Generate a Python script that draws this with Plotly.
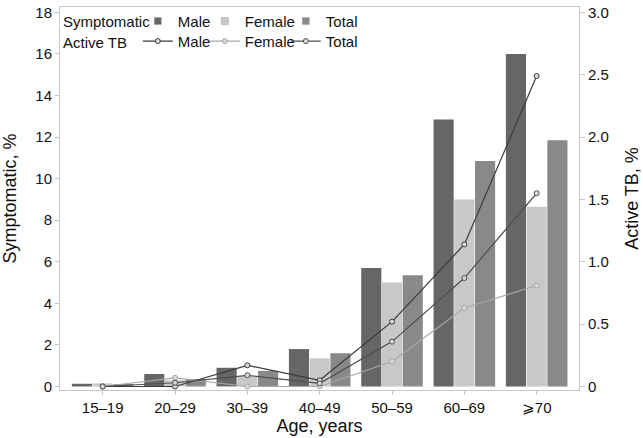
import plotly.graph_objects as go

categories = ["15–19", "20–29", "30–39", "40–49", "50–59", "60–69", "⩾70"]

symp_male = [0.13, 0.6, 0.9, 1.8, 5.7, 12.85, 16.0]
symp_female = [0.15, 0.3, 0.5, 1.35, 5.0, 9.0, 8.65]
symp_total = [0.12, 0.36, 0.75, 1.6, 5.35, 10.85, 11.85]

tb_male = [0.0, 0.0, 0.17, 0.05, 0.52, 1.14, 2.49]
tb_female = [0.0, 0.07, 0.0, 0.0, 0.2, 0.63, 0.81]
tb_total = [0.0, 0.03, 0.09, 0.025, 0.36, 0.87, 1.55]

left_ticks = [0, 2, 4, 6, 8, 10, 12, 14, 16, 18]
right_ticks = [0, 0.5, 1.0, 1.5, 2.0, 2.5, 3.0]
right_tick_text = ["0", "0.5", "1.0", "1.5", "2.0", "2.5", "3.0"]

FONT = "Arial, Liberation Sans, sans-serif"

fig = go.Figure()

bar_specs = [("Male", symp_male, "#666666"),
             ("Female", symp_female, "#c8c8c8"),
             ("Total", symp_total, "#898989")]
for name, vals, col in bar_specs:
    fig.add_trace(go.Bar(x=categories, y=vals, name=name, marker_color=col,
                         marker_line_width=0, showlegend=False, yaxis="y"))
# legend-only entries with small square symbols
for name, vals, col in bar_specs:
    fig.add_trace(go.Scatter(x=[None], y=[None], name=name, mode="markers",
                             marker=dict(symbol="square", size=7, color=col,
                                         line=dict(color="#9a9a9a", width=0.5)),
                             legend="legend", yaxis="y"))

line_specs = [("Male", tb_male, "#3a3a3a"),
              ("Female", tb_female, "#a8a8a8"),
              ("Total", tb_total, "#4e4e4e")]
for name, vals, col in line_specs:
    fig.add_trace(go.Scatter(x=categories, y=vals, name=name, mode="lines+markers",
                             line=dict(color=col, width=1.2),
                             marker=dict(symbol="circle", size=5, color="#d8d8d8",
                                         line=dict(color=col, width=1)),
                             legend="legend2", yaxis="y2"))

axis_line = "#c8c8c8"
fig.update_layout(
    width=643, height=438,
    margin=dict(l=60, r=64, t=6, b=48),
    paper_bgcolor="white", plot_bgcolor="white",
    font=dict(family=FONT, size=15, color="#111111"),
    barmode="group", bargap=0.14, bargroupgap=0.03,
    showlegend=True,
    xaxis=dict(range=[-0.59, 6.585], showline=True, linecolor=axis_line, mirror=True,
               ticks="outside", ticklen=4, tickcolor=axis_line, showgrid=False,
               automargin=False, title=dict(text="Age, years", standoff=0)),
    yaxis=dict(range=[-0.17, 18.26], tickvals=left_ticks, showline=True,
               linecolor=axis_line, ticks="outside", ticklen=4, tickcolor=axis_line,
               showgrid=False, zeroline=False, automargin=False,
               title=dict(text="Symptomatic, %", standoff=14)),
    yaxis2=dict(range=[-0.028, 3.044], tickvals=right_ticks, ticktext=right_tick_text,
                overlaying="y", side="right", showline=True, linecolor=axis_line,
                ticks="outside", ticklen=5, tickcolor=axis_line, showgrid=False,
                zeroline=False, automargin=False,
                title=dict(text="Active TB, %", standoff=17)),
    legend=dict(orientation="h", x=0.150, y=1.003, xanchor="left", yanchor="top",
                bgcolor="rgba(0,0,0,0)", font=dict(size=15), itemclick=False),
    legend2=dict(orientation="h", x=0.150, y=0.951, xanchor="left", yanchor="top",
                 bgcolor="rgba(0,0,0,0)", font=dict(size=15), itemclick=False),
    annotations=[
        dict(text="Symptomatic", x=0.002, y=0.99, xref="paper", yref="paper",
             xanchor="left", yanchor="top", showarrow=False, font=dict(size=15)),
        dict(text="Active TB", x=0.002, y=0.936, xref="paper", yref="paper",
             xanchor="left", yanchor="top", showarrow=False, font=dict(size=15)),
    ],
)

# per-entry widths so legend text columns align
widths = [22, 36, 40]
for i, w in enumerate(widths):
    fig.data[3 + i].legendwidth = w
    fig.data[6 + i].legendwidth = w

fig.write_html("out.html", config={"displayModeBar": False},
               post_script="document.body.style.margin='0';")
